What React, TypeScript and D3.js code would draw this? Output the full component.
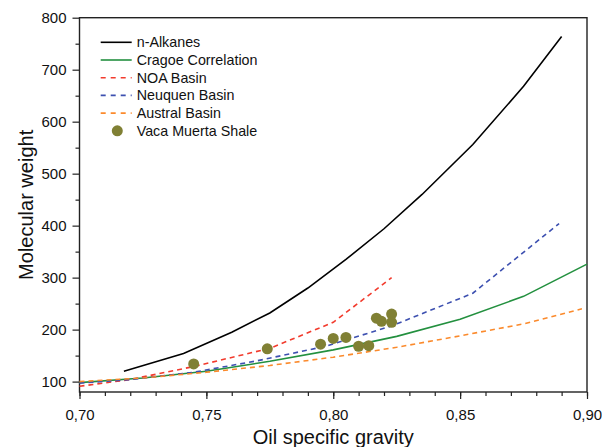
import React, { useEffect, useRef } from "react";
import * as d3 from "d3";

// values
const alkaneSG = [0.7175, 0.741, 0.76, 0.775, 0.79, 0.805, 0.82, 0.835, 0.855, 0.875, 0.89];
const alkaneMW = [120, 154, 195, 232, 280, 335, 394, 460, 556, 668, 764];
const cragoeSG = [0.7, 0.725, 0.75, 0.775, 0.8, 0.825, 0.85, 0.875, 0.9];
const cragoeMW = [98, 107, 120, 139, 161, 187, 220, 264, 326];
const noaSG = [0.7, 0.72, 0.745, 0.775, 0.8, 0.823];
const noaMW = [91, 104, 129, 164, 214, 300];
const neuquenSG = [0.7, 0.72, 0.745, 0.77, 0.797, 0.823, 0.855, 0.889];
const neuquenMW = [97, 104, 118, 140, 168, 207, 270, 404];
const australSG = [0.7, 0.725, 0.75, 0.775, 0.8, 0.825, 0.85, 0.875, 0.898];
const australMW = [100, 107, 118, 131, 147, 166, 188, 211, 240];
const vacaSG = [0.745, 0.774, 0.795, 0.8, 0.805, 0.81, 0.814, 0.817, 0.819, 0.823, 0.823];
const vacaMW = [134, 163, 172, 183, 185, 168, 169, 222, 216, 230, 214];

const xTicks = [0.7, 0.75, 0.8, 0.85, 0.9];
const yTicks = [100, 200, 300, 400, 500, 600, 700, 800];

const series = [
  { name: "n-Alkanes", sg: alkaneSG, mw: alkaneMW, color: "#000000", dash: null },
  { name: "Cragoe Correlation", sg: cragoeSG, mw: cragoeMW, color: "#23903f", dash: null },
  { name: "NOA Basin", sg: noaSG, mw: noaMW, color: "#f23b2d", dash: "5,4" },
  { name: "Neuquen Basin", sg: neuquenSG, mw: neuquenMW, color: "#3d50b0", dash: "5,4" },
  { name: "Austral Basin", sg: australSG, mw: australMW, color: "#fb8a2c", dash: "5,4" },
];
const dotColor = "#808034";

function Chart() {
  const ref = useRef<SVGSVGElement>(null);

  useEffect(() => {
    const svg = d3.select(ref.current);
    svg.selectAll("*").remove();

    const left = 79.5, right = 587, top = 17.7, bottom = 392;
    const x = d3.scaleLinear().domain([0.7, 0.9]).range([left, right]);
    const y = d3.scaleLinear().domain([80, 800]).range([bottom, top]);
    const fmt = (d: number) => d3.format(".2f")(d).replace(".", ",");
    const font = "Arial, 'Liberation Sans', sans-serif";

    // minor ticks
    const xAxisMinor = d3.axisBottom(x).tickValues(d3.range(0.7, 0.9001, 0.01)).tickSize(4).tickFormat(() => "");
    svg.append("g").attr("transform", `translate(0,${bottom})`).call(xAxisMinor)
      .call(g => g.select(".domain").remove());
    const yAxisMinor = d3.axisLeft(y).tickValues(d3.range(150, 800, 100)).tickSize(4).tickFormat(() => "");
    svg.append("g").attr("transform", `translate(${left},0)`).call(yAxisMinor)
      .call(g => g.select(".domain").remove());

    // major ticks + labels
    const xAxis = d3.axisBottom(x).tickValues(xTicks).tickSize(7).tickPadding(10).tickFormat(d => fmt(+d));
    svg.append("g").attr("transform", `translate(0,${bottom})`).call(xAxis)
      .call(g => g.select(".domain").remove())
      .call(g => g.selectAll("text").attr("font-size", 15).attr("font-family", font).attr("fill", "#111"));
    const yAxis = d3.axisLeft(y).tickValues(yTicks).tickSize(7).tickPadding(6).tickFormat(d => String(d));
    svg.append("g").attr("transform", `translate(${left},0)`).call(yAxis)
      .call(g => g.select(".domain").remove())
      .call(g => g.selectAll("text").attr("font-size", 15).attr("font-family", font).attr("fill", "#111"));
    svg.selectAll(".tick line").attr("stroke", "#222").attr("stroke-width", 1.2);

    // frame
    svg.append("rect")
      .attr("x", left).attr("y", top)
      .attr("width", right - left).attr("height", bottom - top)
      .attr("fill", "none").attr("stroke", "#222").attr("stroke-width", 1.4);

    // curves
    series.forEach(s => {
      const pts: [number, number][] = s.sg.map((v, i) => [x(v), y(s.mw[i])]);
      svg.append("path")
        .attr("d", d3.line()(pts))
        .attr("fill", "none")
        .attr("stroke", s.color)
        .attr("stroke-width", 1.6)
        .attr("stroke-dasharray", s.dash);
    });

    // measured points
    svg.append("g").selectAll("circle")
      .data(vacaSG)
      .enter()
      .append("circle")
      .attr("cx", d => x(d))
      .attr("cy", (d, i) => y(vacaMW[i]))
      .attr("r", 5.5)
      .attr("fill", dotColor);

    // legend
    const lg = svg.append("g").attr("font-family", font).attr("font-size", 14.3).attr("fill", "#111");
    const rowH = 17.7;
    series.forEach((s, i) => {
      const yy = 42.3 + i * rowH;
      lg.append("line")
        .attr("x1", 100.7).attr("x2", 131.7).attr("y1", yy).attr("y2", yy)
        .attr("stroke", s.color).attr("stroke-width", 1.6)
        .attr("stroke-dasharray", s.dash ? "5,5" : null);
      lg.append("text").attr("x", 136.7).attr("y", yy + 5).text(s.name);
    });
    const yDot = 42.3 + 5 * rowH;
    lg.append("circle").attr("cx", 117.3).attr("cy", yDot).attr("r", 5.5).attr("fill", dotColor);
    lg.append("text").attr("x", 136.7).attr("y", yDot + 5).text("Vaca Muerta Shale");

    // axis titles
    svg.append("text")
      .attr("x", (left + right) / 2).attr("y", 444)
      .attr("text-anchor", "middle")
      .attr("font-family", font).attr("font-size", 20).attr("fill", "#111")
      .text("Oil specific gravity");
    svg.append("text")
      .attr("transform", `translate(33,${(top + bottom) / 2}) rotate(-90)`)
      .attr("text-anchor", "middle")
      .attr("font-family", font).attr("font-size", 20).attr("fill", "#111")
      .text("Molecular weight");
  }, []);

  return <svg ref={ref} width={602} height={447} style={{ display: "block" }} />;
}

export default function App() {
  return (
    <div style={{ position: "absolute", left: 0, top: 0, width: 602, height: 447, background: "#fff" }}>
      <Chart />
    </div>
  );
}
